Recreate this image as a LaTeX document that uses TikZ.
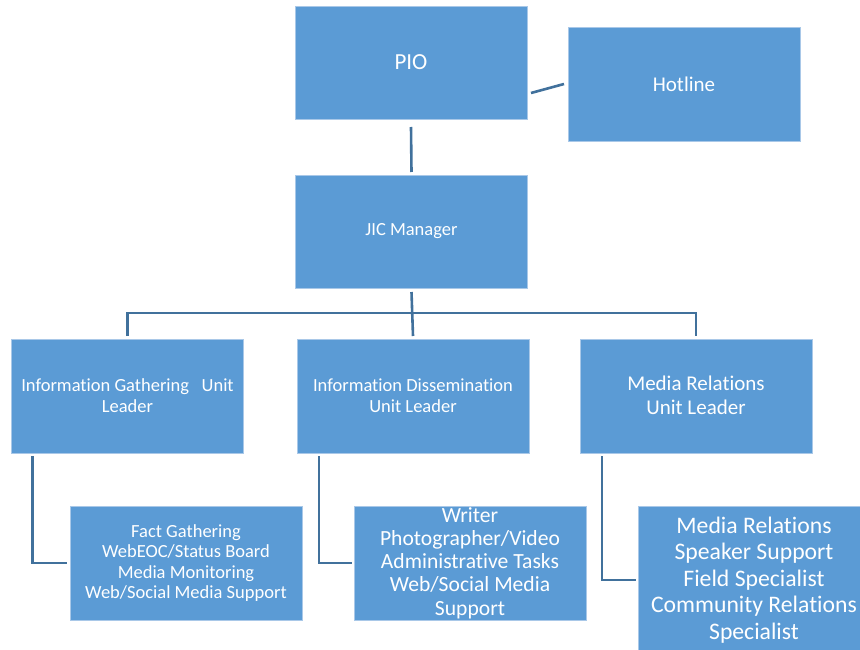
\documentclass[tikz,border=0pt]{standalone}
\usepackage{fontspec}
\setmainfont{Carlito}[Ligatures=NoCommon]
\usetikzlibrary{calc}
\definecolor{boxblue}{HTML}{5B9BD5}
\definecolor{boxedge}{HTML}{A9C8E8}
\definecolor{linkblue}{HTML}{41719C}
\begin{document}
\begin{tikzpicture}[x=1pt,y=-1pt,
  unitbox/.style={rectangle,fill=boxblue,draw=boxedge,line width=0.8pt,
    minimum width=232pt,minimum height=114pt,inner sep=0pt,outer sep=0pt},
  boxtext/.style={text=white,align=center,inner sep=0pt},
  conn/.style={draw=linkblue,line width=2.6pt}]
\useasboundingbox (0,0) rectangle (860,650);
\clip (0,0) rectangle (860,650);

% top level
\node[unitbox,minimum height=113pt] (pio) at (411,62.5) {};
\node[boxtext,font=\fontsize{23}{26}\selectfont] (piot) at (pio) {PIO};
\node[unitbox] (hot) at (684,84) {};
\node[boxtext,font=\fontsize{21}{24}\selectfont] (hott) at (hot) {Hotline};
\node[unitbox,minimum height=113pt] (jic) at (411.5,231.5) {};
\node[boxtext,font=\fontsize{18.5}{21}\selectfont] (jict) at (jic) {JIC Manager};

% unit leaders
\node[unitbox] (gat) at (127.5,396) {};
\node[boxtext,font=\fontsize{18.5}{21}\selectfont] (gatt) at (gat) {Information Gathering\ \ \ Unit\\Leader};
\node[unitbox] (dis) at (413,396) {};
\node[boxtext,font=\fontsize{18.5}{21}\selectfont] (dist) at (dis) {Information Dissemination\\Unit Leader};
\node[unitbox] (med) at (696,396) {};
\node[boxtext,font=\fontsize{21}{24}\selectfont] (medt) at ([yshift=1pt]med.center) {Media Relations\\Unit Leader};

% staff boxes
\node[unitbox] (fact) at (186,563) {};
\node[boxtext,font=\fontsize{18.5}{20.5}\selectfont] (factt) at (fact) {Fact Gathering\\WebEOC/Status Board\\Media Monitoring\\Web/Social Media Support};
\node[unitbox] (writ) at (470,563) {};
\node[boxtext,font=\fontsize{21.6}{23.3}\selectfont] (writt) at (writ) {Writer\\Photographer/Video\\Administrative Tasks\\Web/Social Media\\Support};
\node[unitbox,minimum height=148pt] (spk) at (754,580) {};
\node[boxtext,font=\fontsize{23.7}{26.5}\selectfont] (spkt) at (spk) {Media Relations\\Speaker Support\\Field Specialist\\Community Relations\\Specialist};

% connectors
\draw[conn] ($(pio.east)+(4,30.5)$) -- ($(hot.west)+(-4,0)$);
\draw[conn] ($(pio.south)+(0,8)$) -- ($(jic.north)+(0,-3)$);
\draw[conn] ($(jic.south)+(0,4)$) -- ($(dis.north)+(0,-3)$);
\draw[conn] ($(gat.north)+(0,-3)$) -- (gat.north |- 0,313) -- (med.north |- 0,313) -- ($(med.north)+(0,-3)$);
\draw[conn] ($(gat.south west)+(21,3)$) |- ($(fact.west)+(-3,0)$);
\draw[conn] ($(dis.south west)+(22,3)$) |- ($(writ.west)+(-2,0)$);
\draw[conn] ($(med.south west)+(22,3)$) |- ($(spk.west)+(-2,0)$);
\end{tikzpicture}
\end{document}
